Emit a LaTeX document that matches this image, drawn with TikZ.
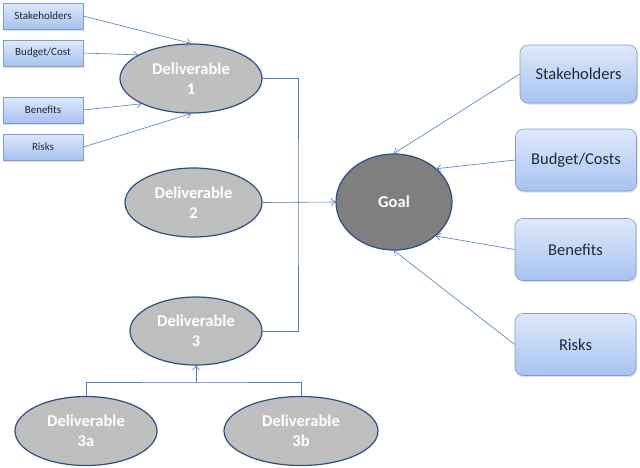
\documentclass[tikz,border=0pt]{standalone}
\usepackage{fontspec}
\setmainfont{Carlito}
\usetikzlibrary{shapes.geometric,arrows.meta,shadows}
\definecolor{arrowblue}{HTML}{4F7DBE}
\definecolor{ellborder}{HTML}{2F4F7F}
\definecolor{ellfill}{HTML}{BFBFBF}
\definecolor{goalfill}{HTML}{7F7F7F}
\definecolor{boxtop}{HTML}{DFE9FB}
\definecolor{boxbot}{HTML}{A7C3EF}
\definecolor{boxborder}{HTML}{7D9CD0}
\definecolor{txtdark}{HTML}{1F2A3A}
\tikzset{
  deliv/.style={ellipse, draw=ellborder, line width=1.2pt, fill=ellfill, inner sep=0pt,
    text=white, font=\fontsize{16.5}{20}\selectfont\bfseries, align=center},
  goalnode/.style={deliv, fill=goalfill},
  smallbox/.style={rectangle, draw=boxborder, line width=0.6pt, top color=boxtop, bottom color=boxbot,
    minimum width=80pt, minimum height=26pt, inner sep=0pt, text=txtdark,
    font=\fontsize{11}{13}\selectfont, drop shadow={opacity=0.25, shadow xshift=1pt, shadow yshift=-1.5pt}},
  bigbox/.style={rectangle, rounded corners=8pt, draw=boxborder, line width=0.6pt, top color=boxtop, bottom color=boxbot,
    minimum width=121pt, minimum height=62pt, inner sep=0pt, text=txtdark,
    font=\fontsize{16.5}{20}\selectfont, drop shadow={opacity=0.25, shadow xshift=1pt, shadow yshift=-1.5pt}},
  conn/.style={draw=arrowblue, line width=0.6pt},
  arr/.style={conn, -{Straight Barb[length=4pt, width=7pt]}}
}
\begin{document}
\begin{tikzpicture}[x=1pt,y=-1pt]
\useasboundingbox (0,0) rectangle (640,467);
\fill[white] (0,0) rectangle (640,467);
% left small boxes
\node[smallbox] (ls) at (43,16) {Stakeholders};
\node[smallbox] (lb) at (43,53) {Budget/Cost};
\node[smallbox] (lbe) at (43,110) {Benefits};
\node[smallbox] (lr) at (43,147) {Risks};
% deliverables
\node[deliv, minimum width=142pt, minimum height=69pt] (d1) at (191,78.5) {Deliverable\\1};
\node[deliv, minimum width=137pt, minimum height=69pt] (d2) at (193.5,202.5) {Deliverable\\2};
\node[deliv, minimum width=132pt, minimum height=68pt] (d3) at (196,331) {Deliverable\\3};
\node[deliv, minimum width=142pt, minimum height=69pt] (d3a) at (86,431) {Deliverable\\3a};
\node[deliv, minimum width=154pt, minimum height=69pt] (d3b) at (301,431) {Deliverable\\3b};
\node[goalnode, minimum width=116pt, minimum height=96pt] (goal) at (394,202) {Goal};
% right boxes
\node[bigbox, minimum width=117pt, minimum height=58pt] (rs) at (578.5,74) {Stakeholders};
\node[bigbox] (rb) at (576,160) {Budget/Costs};
\node[bigbox] (rbe) at (575.5,249.5) {Benefits};
\node[bigbox] (rr) at (575.5,344.5) {Risks};
% coordinates
\coordinate (j1) at (298,202);
\coordinate (j2) at (196,382);
% connectors to deliverable 1
\draw[arr] (ls.east) -- (d1.north);
\draw[arr] (lb.east) -- (d1.156);
\draw[arr] (lbe.east) -- (d1.207);
\draw[arr] (lr.east) -- (d1.south);
% deliverables to goal
\draw[conn] (d1.east) -| (j1) |- (d3.east);
\draw[arr] (d2.east) -- (goal.west);
% sub-deliverables
\draw[conn] (d3a.north) |- (j2) -| (d3b.north);
\draw[arr] (j2) -- (d3.south);
% right boxes to goal
\draw[arr] (rs.west) -- (goal.north);
\draw[arr] (rb.west) -- (goal.38);
\draw[arr] (rbe.west) -- (goal.-39);
\draw[arr] (rr.west) -- (goal.south);
\end{tikzpicture}
\end{document}
